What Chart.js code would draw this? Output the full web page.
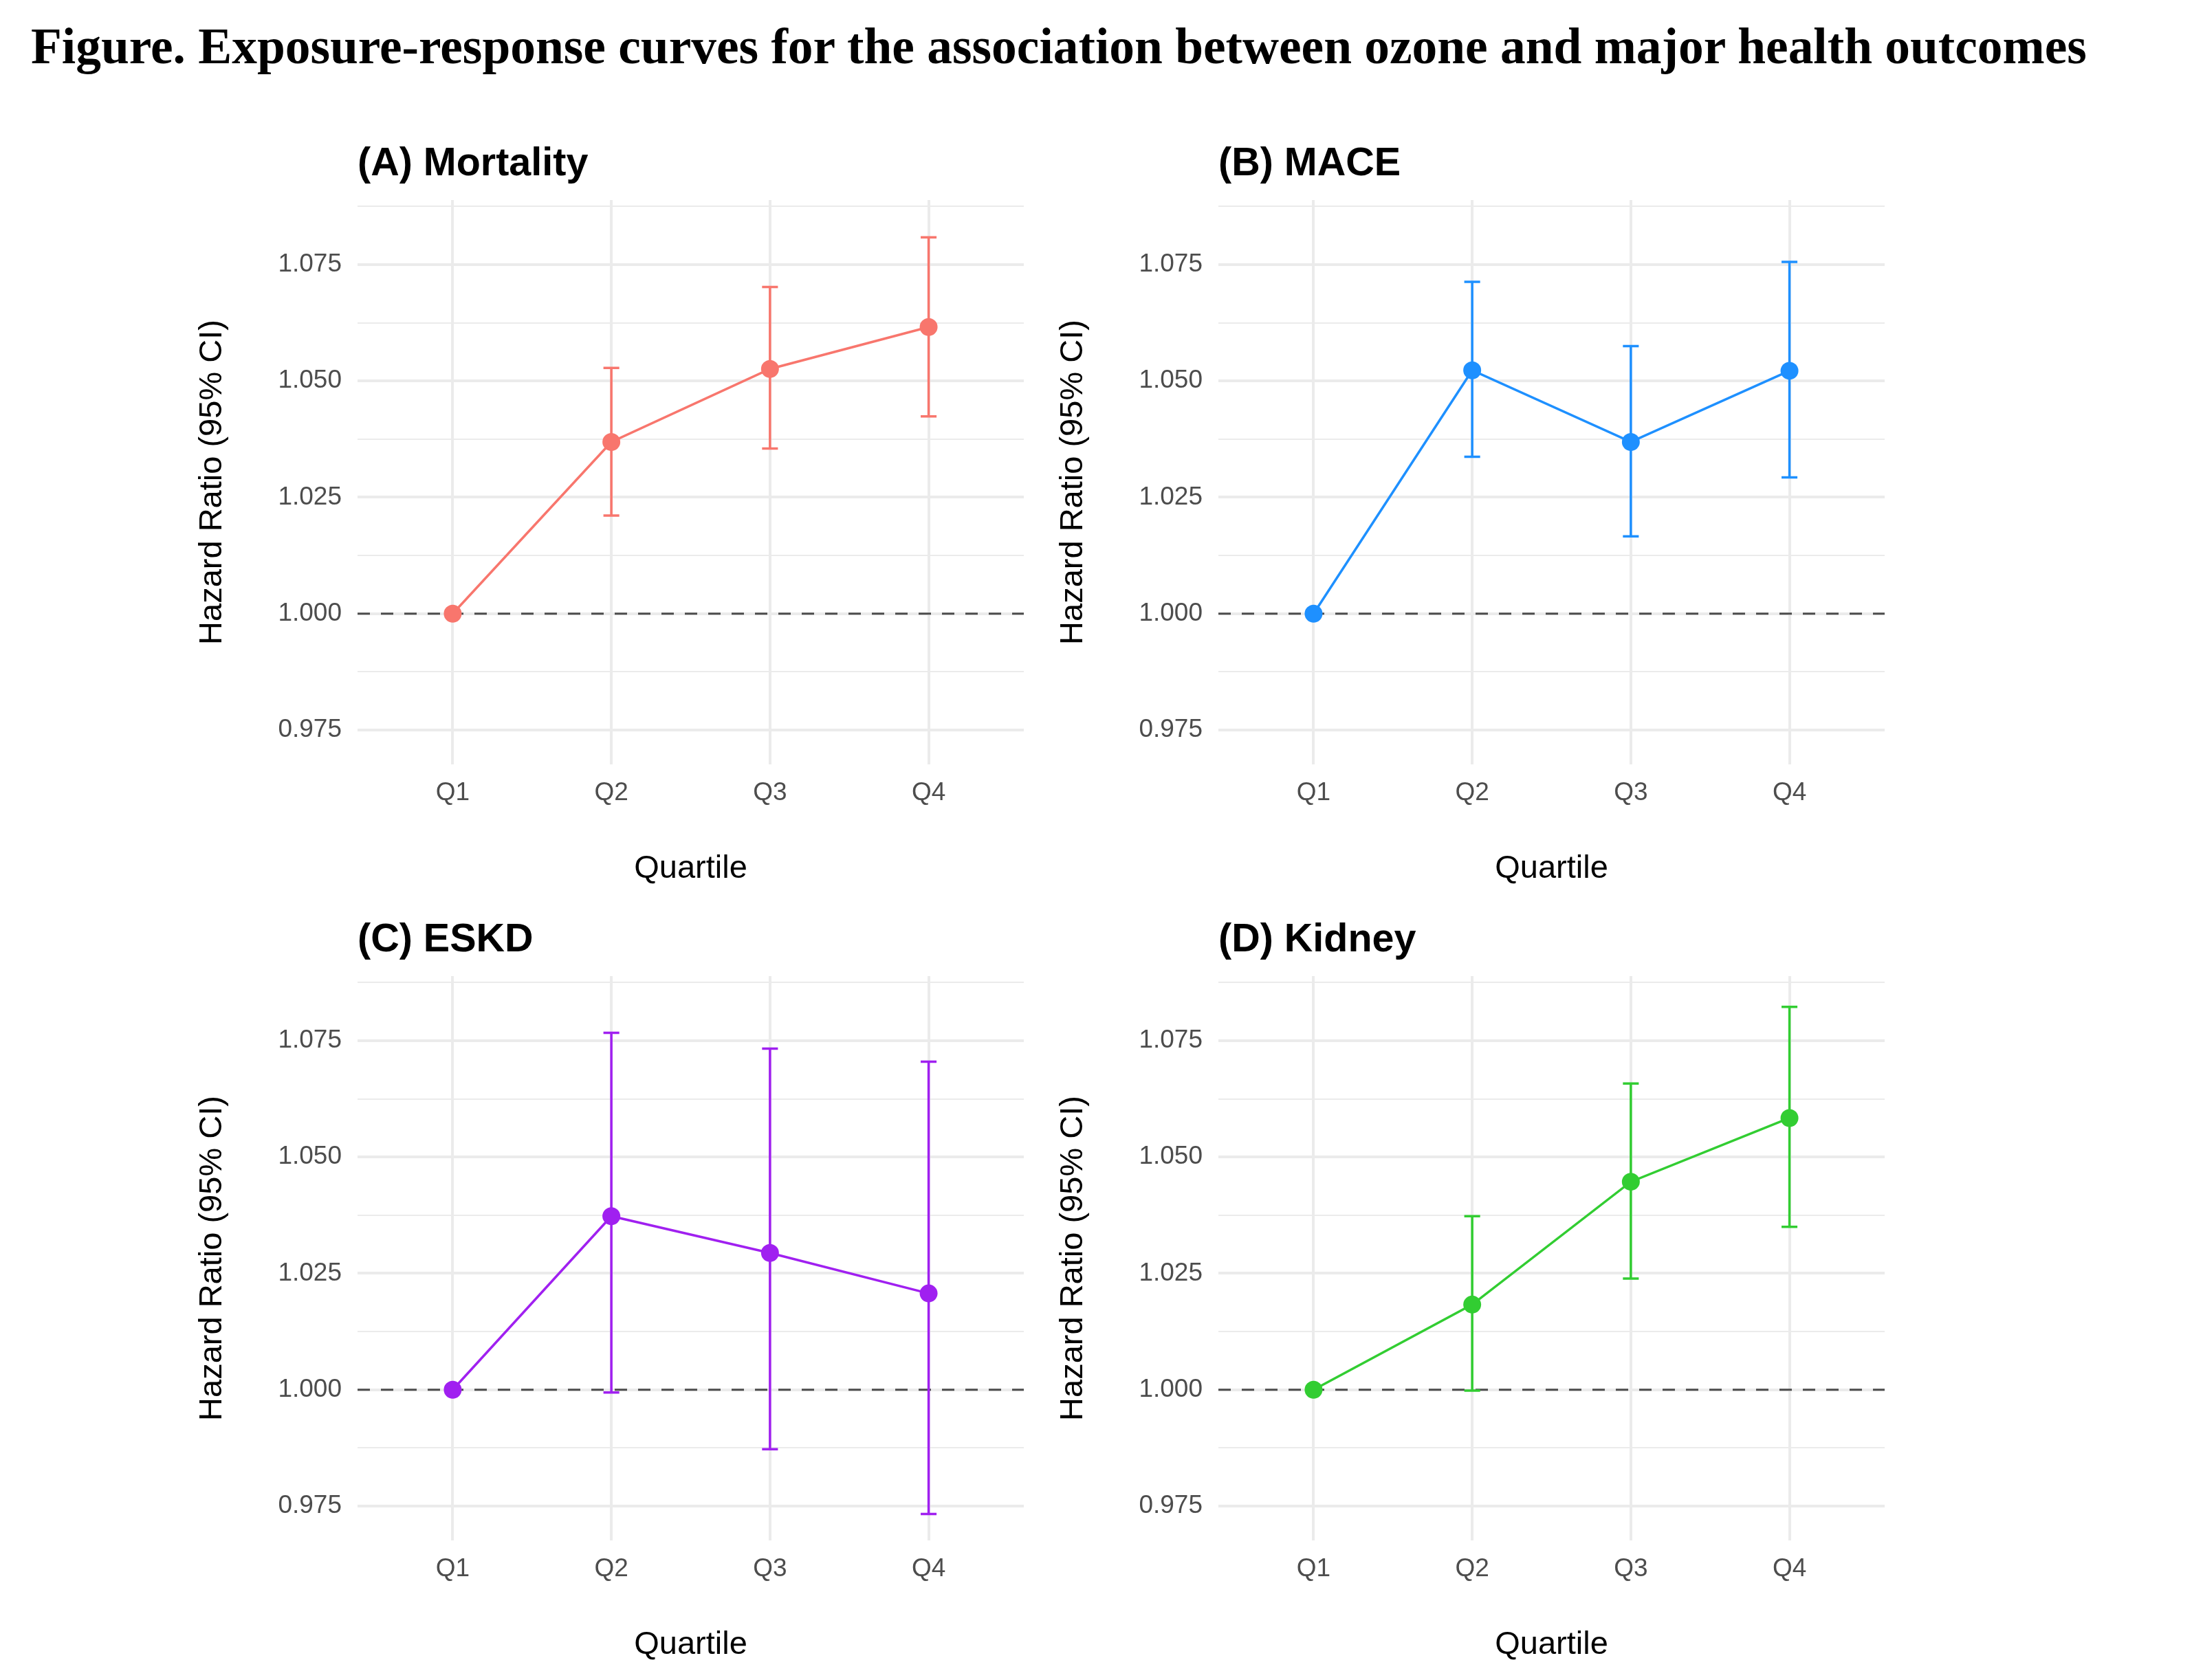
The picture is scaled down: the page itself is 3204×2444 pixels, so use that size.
<!DOCTYPE html>
<html>
<head>
<meta charset="utf-8">
<title>Exposure-response curves</title>
<script src="https://cdn.jsdelivr.net/npm/chart.js@4.4.1/dist/chart.umd.min.js"></script>
<style>
  body { margin: 0; background: #fff; width: 3204px; height: 2444px; position: relative; overflow: hidden; }
  #figTitle { position: absolute; left: 45px; top: 31px; font-family: "Liberation Serif", "Times New Roman", serif; font-weight: bold; font-size: 73.4px; line-height: 74px; white-space: nowrap; color: #000; }
  canvas { position: absolute; }
</style>
</head>
<body>
<div id="figTitle">Figure. Exposure-response curves for the association between ozone and major health outcomes</div>
<canvas id="panelA" width="1260" height="1120" style="left:250px;top:180px"></canvas>
<canvas id="panelB" width="1260" height="1120" style="left:1502px;top:180px"></canvas>
<canvas id="panelC" width="1260" height="1120" style="left:250px;top:1309px"></canvas>
<canvas id="panelD" width="1260" height="1120" style="left:1502px;top:1309px"></canvas>
<script>
// categories and tick labels
const quartiles = ['Q1', 'Q2', 'Q3', 'Q4'];
const yTicks = [0.975, 1.000, 1.025, 1.050, 1.075];
const yLabels = ['0.975', '1.000', '1.025', '1.050', '1.075'];
const yMinor = [0.9875, 1.0125, 1.0375, 1.0625, 1.0875];

// hazard ratios and 95% CI
const mortalityHR = [1.000, 1.0369, 1.0526, 1.0616];
const mortalityLo = [1.000, 1.0211, 1.0355, 1.0424];
const mortalityHi = [1.000, 1.0528, 1.0702, 1.0809];

const maceHR = [1.000, 1.0523, 1.0369, 1.0522];
const maceLo = [1.000, 1.0337, 1.0166, 1.0293];
const maceHi = [1.000, 1.0713, 1.0575, 1.0756];

const eskdHR = [1.000, 1.0373, 1.0294, 1.0207];
const eskdLo = [1.000, 0.9994, 0.9872, 0.9733];
const eskdHi = [1.000, 1.0767, 1.0733, 1.0705];

const kidneyHR = [1.000, 1.0183, 1.0447, 1.0584];
const kidneyLo = [1.000, 0.9998, 1.0239, 1.0350];
const kidneyHi = [1.000, 1.0373, 1.0658, 1.0823];

const FONT = '"Liberation Sans", Arial, sans-serif';

function isMajor(v) {
    return yTicks.some(t => Math.abs(t - v) < 1e-9);
}

function makePanel(id, title, color, hr, lo, hi) {
    // reference line at HR = 1 and the CI whiskers
    const errorBars = {
        id: 'errorBars' + id,
        beforeDatasetsDraw(chart) {
            const ctx = chart.ctx;
            const area = chart.chartArea;
            const x = chart.scales.x, y = chart.scales.y;
            ctx.save();
            ctx.strokeStyle = '#4D4D4D';
            ctx.lineWidth = 3;
            ctx.setLineDash([18, 16]);
            ctx.beginPath();
            ctx.moveTo(area.left, y.getPixelForValue(1));
            ctx.lineTo(area.right, y.getPixelForValue(1));
            ctx.stroke();
            ctx.setLineDash([]);
            ctx.strokeStyle = color;
            ctx.lineWidth = 3.5;
            for (let i = 0; i < lo.length; i++) {
                const px = x.getPixelForValue(i + 1);
                const x0 = x.getPixelForValue(i + 1 - 0.05);
                const x1 = x.getPixelForValue(i + 1 + 0.05);
                const yl = y.getPixelForValue(lo[i]);
                const yh = y.getPixelForValue(hi[i]);
                ctx.beginPath();
                ctx.moveTo(px, yl); ctx.lineTo(px, yh);
                ctx.moveTo(x0, yl); ctx.lineTo(x1, yl);
                ctx.moveTo(x0, yh); ctx.lineTo(x1, yh);
                ctx.stroke();
            }
            ctx.restore();
        }
    };

    new Chart(document.getElementById(id), {
        type: 'line',
        data: {
            datasets: [{
                data: hr.map((v, i) => ({x: i + 1, y: v})),
                borderColor: color,
                backgroundColor: color,
                borderWidth: 3.5,
                pointRadius: 13,
                pointBorderWidth: 0,
                pointBackgroundColor: color,
                tension: 0
            }]
        },
        options: {
            responsive: false,
            animation: false,
            devicePixelRatio: 1,
            layout: { padding: { left: 0, right: 21, top: 0, bottom: 0 } },
            plugins: {
                legend: { display: false },
                tooltip: { enabled: false },
                title: {
                    display: true,
                    text: title,
                    align: 'start',
                    fullSize: false,
                    color: '#000',
                    font: { family: FONT, size: 57.5, weight: 'bold' },
                    padding: { top: 25, bottom: 17 }
                }
            },
            scales: {
                x: {
                    type: 'linear',
                    min: 0.4,
                    max: 4.6,
                    afterBuildTicks: (scale) => { scale.ticks = quartiles.map((q, i) => ({value: i + 1})); },
                    afterFit: (scale) => { scale.height = 188; },
                    border: { display: false },
                    grid: { color: '#EBEBEB', lineWidth: 4, drawTicks: false },
                    ticks: {
                        autoSkip: false,
                        maxRotation: 0,
                        padding: 20,
                        color: '#4D4D4D',
                        font: { family: FONT, size: 37 },
                        callback: (v, i) => quartiles[i]
                    },
                    title: {
                        display: true,
                        text: 'Quartile',
                        color: '#000',
                        font: { family: FONT, size: 47 },
                        padding: { top: 0, bottom: 8 }
                    }
                },
                y: {
                    min: 0.9676,
                    max: 1.0889,
                    afterBuildTicks: (scale) => {
                        scale.ticks = yTicks.concat(yMinor).sort((a, b) => a - b).map(v => ({value: v}));
                    },
                    afterFit: (scale) => { scale.width = 270; },
                    border: { display: false },
                    grid: {
                        color: '#EBEBEB',
                        drawTicks: false,
                        lineWidth: (c) => (c.tick && isMajor(c.tick.value)) ? 4 : 2
                    },
                    ticks: {
                        autoSkip: false,
                        padding: 23,
                        color: '#4D4D4D',
                        font: { family: FONT, size: 37 },
                        callback: (v) => {
                            const j = yTicks.findIndex(t => Math.abs(t - v) < 1e-9);
                            return j >= 0 ? yLabels[j] : '';
                        }
                    },
                    title: {
                        display: true,
                        text: 'Hazard Ratio (95% CI)',
                        color: '#000',
                        font: { family: FONT, size: 47 },
                        padding: { top: 31, bottom: 0 }
                    }
                }
            }
        },
        plugins: [errorBars]
    });
}

makePanel('panelA', '(A) Mortality', '#F8766D', mortalityHR, mortalityLo, mortalityHi);
makePanel('panelB', '(B) MACE', '#1E90FF', maceHR, maceLo, maceHi);
makePanel('panelC', '(C) ESKD', '#A020F0', eskdHR, eskdLo, eskdHi);
makePanel('panelD', '(D) Kidney', '#32CD32', kidneyHR, kidneyLo, kidneyHi);
</script>
</body>
</html>
